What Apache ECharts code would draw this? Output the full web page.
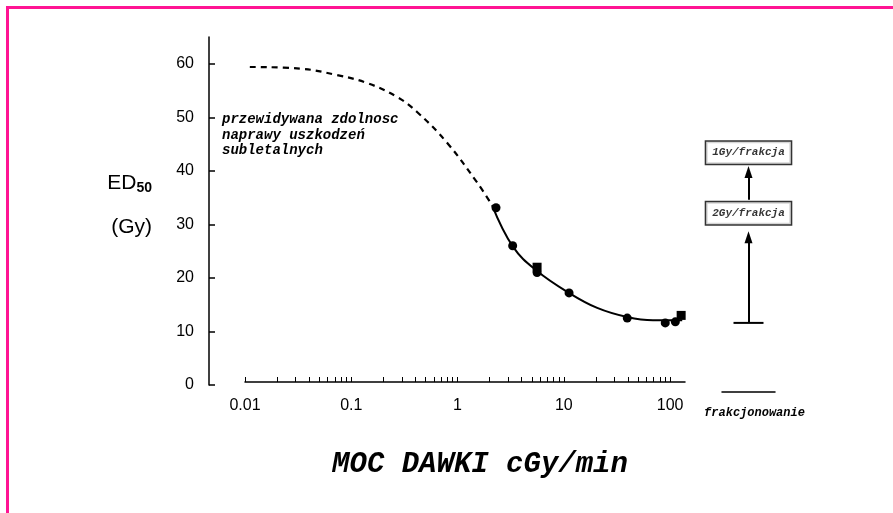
<!DOCTYPE html>
<html lang="pl">
<head>
    <meta charset="UTF-8">
    <title>ED50 a moc dawki</title>
    <script src="https://cdn.jsdelivr.net/npm/echarts@6/dist/echarts.min.js"></script>
    <style>
        html, body { margin: 0; padding: 0; background: #fff; }
        #box { width: 893px; height: 513px; }
    </style>
</head>
<body>
<div id="box"></div>
<script>
    // krzywa przewidywana (przerywana) - moc dawki cGy/min i ED50 Gy
    var doseDashed = [0.0111, 0.033, 0.073, 0.141, 0.27, 0.416, 0.80, 1.53, 2.11];
    var ed50Dashed = [59.4, 59.1, 57.9, 56.4, 53.8, 51.0, 45.2, 37.8, 33.6];
    // krzywa dopasowana (ciagla)
    var doseSolid = [2.11, 3.33, 5.6, 11.2, 20.6, 39.4, 69, 130];
    var ed50Solid = [33.6, 25.8, 21.3, 17.2, 14.4, 12.7, 12.1, 12.1];
    // punkty pomiarowe
    var doseCircles = [2.3, 3.3, 5.6, 11.2, 39.5, 90, 112];
    var ed50Circles = [33.1, 26.0, 21.0, 17.2, 12.5, 11.6, 11.8];
    var doseSquares = [5.6, 127];
    var ed50Squares = [22.0, 13.0];
    // frakcjonowanie
    var fractionBase = 11.6;
    var fractionBoxes = ['2Gy/frakcja', '1Gy/frakcja'];
    var fractionBoxValues = [32.1, 43.4];
    // osie
    var xLabelValues = [0.01, 0.1, 1, 10, 100];
    var yTicks = [0, 10, 20, 30, 40, 50, 60];

    var log10 = function (v) { return Math.log10(v); };
    var pairs = function (xs, ys) {
        return xs.map(function (x, i) { return [log10(x), ys[i]]; });
    };
    // drobne znaczniki osi log: 1..9 x 10^k
    var minorTicks = [];
    for (var k = -2; k <= 1; k++) {
        for (var m = 1; m <= 9; m++) minorTicks.push(log10(m * Math.pow(10, k)));
    }
    minorTicks.push(2);

    var mono = '"Liberation Mono", "Courier New", monospace';
    var sans = '"Liberation Sans", Arial, sans-serif';

    var myChart = echarts.init(document.getElementById('box'));
    var option = {
        backgroundColor: '#fff',
        animation: false,
        grid: [
            { left: 245, right: 208, top: 37, bottom: 128 },
            { left: 722, right: 118, top: 37, bottom: 128 }
        ],
        xAxis: [{
            type: 'value',
            gridIndex: 0,
            min: -2,
            max: 2.14,
            offset: -3,
            splitLine: { show: false },
            axisLine: { onZero: false, lineStyle: { color: '#000', width: 1.5 } },
            axisTick: {
                inside: true, length: 5,
                customValues: minorTicks,
                lineStyle: { color: '#000', width: 1 }
            },
            axisLabel: {
                customValues: xLabelValues.map(log10),
                formatter: function (v) { return String(xLabelValues[Math.round(v) + 2]); },
                color: '#000', fontFamily: sans, fontSize: 16, margin: 16
            },
            name: 'MOC DAWKI cGy/min',
            nameLocation: 'middle',
            nameGap: 68,
            nameTextStyle: {
                fontFamily: mono, fontStyle: 'italic', fontWeight: 'bold',
                fontSize: 29, color: '#000', padding: [0, 0, 0, 30]
            }
        }, {
            type: 'category',
            gridIndex: 1,
            data: ['frakcjonowanie'],
            offset: 7,
            axisLine: { onZero: false, lineStyle: { color: '#000', width: 1.5 } },
            axisTick: { show: false },
            axisLabel: {
                fontFamily: mono, fontStyle: 'italic', fontWeight: 'bold',
                fontSize: 12, color: '#000', margin: 15, padding: [0, 0, 0, 12]
            }
        }],
        yAxis: [{
            type: 'value',
            gridIndex: 0,
            min: 0,
            max: 65,
            interval: 10,
            offset: 36,
            splitLine: { show: false },
            axisLine: { show: true, onZero: false, lineStyle: { color: '#000', width: 1.5 } },
            axisTick: {
                inside: true, length: 6,
                customValues: yTicks,
                lineStyle: { color: '#000', width: 1.5 }
            },
            axisLabel: {
                customValues: yTicks,
                color: '#000', fontFamily: sans, fontSize: 16, margin: 15
            },
            name: '{a|ED}{b|50}\n{a|(Gy)}',
            nameLocation: 'middle',
            nameRotate: 0,
            nameGap: 57,
            nameTextStyle: {
                padding: [0, 0, 12, 0],
                rich: {
                    a: { fontFamily: sans, fontSize: 21, color: '#000', lineHeight: 44 },
                    b: { fontFamily: sans, fontSize: 14, fontWeight: 'bold', color: '#000', padding: [10, 0, 0, 0] }
                }
            }
        }, {
            type: 'value',
            gridIndex: 1,
            min: 0,
            max: 65,
            show: false
        }],
        series: [
            {
                name: 'przewidywana',
                type: 'line',
                smooth: 0.4,
                showSymbol: false,
                xAxisIndex: 0, yAxisIndex: 0,
                data: pairs(doseDashed, ed50Dashed),
                lineStyle: { color: '#000', width: 2.2, type: [6, 5] }
            },
            {
                name: 'dopasowanie',
                type: 'line',
                smooth: 0.4,
                showSymbol: false,
                xAxisIndex: 0, yAxisIndex: 0,
                data: pairs(doseSolid, ed50Solid),
                lineStyle: { color: '#000', width: 2 }
            },
            {
                name: 'punkty',
                type: 'scatter',
                symbol: 'circle',
                symbolSize: 9,
                xAxisIndex: 0, yAxisIndex: 0,
                data: pairs(doseCircles, ed50Circles),
                itemStyle: { color: '#000', opacity: 1 }
            },
            {
                name: 'punkty2',
                type: 'scatter',
                symbol: 'rect',
                symbolSize: 9,
                xAxisIndex: 0, yAxisIndex: 0,
                data: pairs(doseSquares, ed50Squares),
                itemStyle: { color: '#000', opacity: 1 }
            },
            {
                name: 'frakcjonowanie',
                type: 'scatter',
                symbol: 'rect',
                symbolSize: [30, 2],
                xAxisIndex: 1, yAxisIndex: 1,
                data: [[0, fractionBase]],
                itemStyle: { color: '#000', opacity: 1 },
                markLine: {
                    silent: true,
                    symbol: ['none', 'triangle'],
                    symbolSize: [8, 12],
                    label: { show: false },
                    lineStyle: { color: '#000', width: 2, type: 'solid' },
                    data: [
                        [{ coord: [0, fractionBase] }, { coord: [0, 27.6] }],
                        [{ coord: [0, 34.6] }, { coord: [0, 39.8] }]
                    ]
                }
            },
            {
                name: 'ramki',
                type: 'scatter',
                symbol: 'rect',
                symbolSize: 1,
                z: 5,
                xAxisIndex: 1, yAxisIndex: 1,
                data: fractionBoxValues.map(function (v, i) {
                    return { name: fractionBoxes[i], value: [0, v] };
                }),
                itemStyle: { color: 'rgba(0,0,0,0)' },
                label: {
                    show: true,
                    position: 'inside',
                    formatter: '{b}',
                    fontFamily: mono, fontStyle: 'italic', fontWeight: 'bold',
                    fontSize: 11, color: '#000',
                    backgroundColor: '#fff',
                    borderColor: '#000', borderWidth: 1.5,
                    padding: [6, 6, 5, 6]
                }
            }
        ],
        graphic: [
            {
                type: 'rect',
                silent: true,
                shape: { x: 7.5, y: 7.5, width: 1000, height: 1000 },
                style: { fill: 'none', stroke: '#ff1493', lineWidth: 3 }
            },
            {
                type: 'text',
                left: 222,
                top: 112,
                style: {
                    text: 'przewidywana zdolnosc\nnaprawy uszkodzeń\nsubletalnych',
                    font: 'italic bold 14px ' + mono,
                    lineHeight: 15.5,
                    fill: '#000'
                }
            }
        ]
    };
    myChart.setOption(option);
</script>
</body>
</html>
